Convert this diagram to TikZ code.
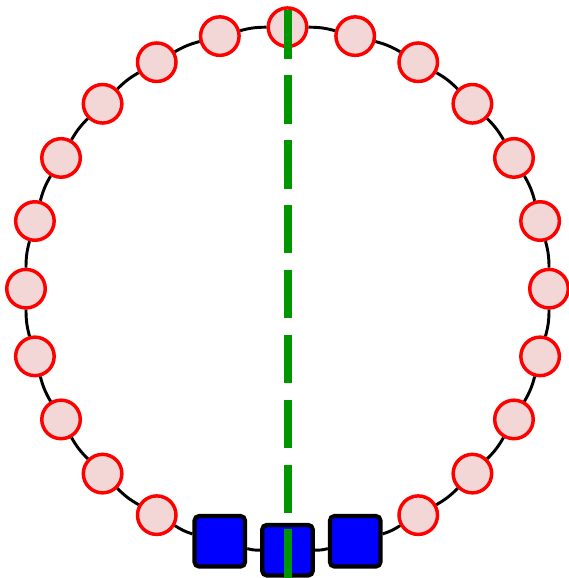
\documentclass[tikz,border=0pt]{standalone}
\usepackage{xcolor}
\usepackage{tikz}
\usetikzlibrary{calc}
\definecolor{ringpink}{RGB}{243,214,214}
\definecolor{cutgreen}{RGB}{0,150,0}
\tikzset{
  ringnode/.style={circle, draw=red, fill=ringpink, line width=2.6pt,
                   minimum size=28.9pt, inner sep=0pt},
  blocknode/.style={rectangle, rounded corners=3.5pt, draw=black, fill=blue,
                    line width=3.2pt, minimum size=37.9pt, inner sep=0pt},
  ringedge/.style={black, line width=2.2pt},
  cutline/.style={cutgreen, line width=6pt, dash pattern=on 36.5pt off 12.2pt},
}
\begin{document}
\begin{tikzpicture}[x=0.75pt, y=0.75pt]
  \useasboundingbox (0,0) rectangle (568,578);
  \coordinate (C) at (287.5,289.3);
  % ring nodes, counted anticlockwise from the top
  \foreach \i in {0,...,10,14,15,...,23}
    \node[ringnode] (n\i) at ($(C)+(90+15*\i:261.5)$) {};
  \foreach \i in {11,12,13}
    \node[blocknode] (n\i) at ($(C)+(90+15*\i:261.5)$) {};
  % ring edges
  \foreach \i [evaluate=\i as \j using {int(mod(\i+1,24))}] in {0,...,23}
    \draw[ringedge] (n\i) to[bend right=7.5] (n\j);
  % cut
  \coordinate (cuttop) at (288,568);
  \coordinate (cutbot) at (288,0);
  \draw[cutline] (cuttop) -- (cutbot);
\end{tikzpicture}
\end{document}
